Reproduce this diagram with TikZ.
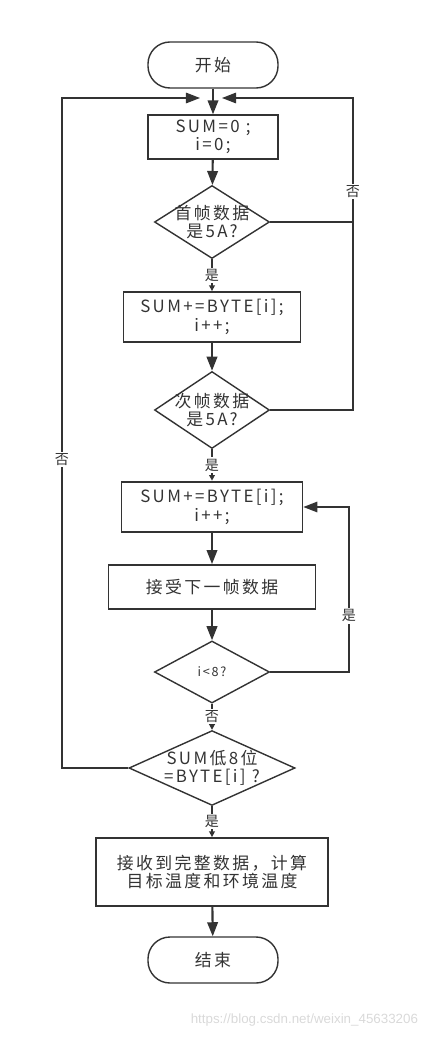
\documentclass[tikz,border=0pt]{standalone}
\usepackage{fontspec}
\setmainfont{Noto Sans CJK SC}[LetterSpace=14]
\newfontfamily\markfont{Liberation Sans}
\usetikzlibrary{shapes.geometric,arrows.meta}
\definecolor{ink}{HTML}{333333}
\newcommand{\txt}[1]{\fontsize{#1}{13}\selectfont}

\begin{document}
\begin{tikzpicture}[x=0.025cm,y=-0.025cm,color=ink,
  every node/.style={font=\txt{12}},
  terminal/.style={draw,line width=1pt,rounded corners=0.55cm,minimum width=3.25cm,minimum height=1.15cm},
  process/.style={draw,line width=1.3pt,align=center},
  decision/.style={draw,diamond,line width=1pt,inner sep=-10pt,align=center},
  flow/.style={line width=1.5pt,-{Triangle[length=10pt,width=7.5pt]}},
  branch/.style={line width=1pt,-{Triangle[length=4pt,width=4pt]}},
  loop/.style={line width=1pt,-{Triangle[length=10pt,width=7.5pt]}},
  tag/.style={fill=white,inner sep=1pt,font=\txt{10}}]
  \useasboundingbox (0,0) rectangle (432,1038);
  \node[terminal] (start) at (213,65) {开始};
  \node[process,minimum width=3.25cm,minimum height=1.05cm] (init) at (213,137) {SUM=0 ;\\ i=0;};
  \node[decision,minimum width=2.875cm,minimum height=1.825cm] (first) at (212,222) {首帧数据\\是5A?};
  \node[process,minimum width=4.42cm,minimum height=1.25cm] (add1) at (212,317) {SUM+=BYTE[i];\\i++;};
  \node[decision,minimum width=2.875cm,minimum height=1.925cm] (second) at (212,410) {次帧数据\\是5A?};
  \node[process,minimum width=4.52cm,minimum height=1.27cm] (add2) at (212,507) {SUM+=BYTE[i];\\i++;};
  \node[process,minimum width=5.17cm,minimum height=1.1cm] (next) at (212,587) {接受下一帧数据};
  \node[decision,minimum width=2.875cm,minimum height=1.55cm,font=\txt{9}] (count) at (212,672) {i<8?};
  \node[decision,minimum width=4.15cm,minimum height=1.85cm] (check) at (212,768) {SUM低8位\\=BYTE[i] ?};
  \node[process,minimum width=5.8cm,minimum height=1.7cm] (calc) at (212,872) {接收到完整数据，计算\\目标温度和环境温度};
  \node[terminal] (stop) at (213,960) {结束};
  \coordinate (merge) at (212,98);
  \coordinate (rtop) at (353,98);
  \coordinate (ltop) at (62,98);
  \coordinate (rloop) at (349,507);

  \draw[flow] (start) -- (init);
  \draw[flow] (init) -- (first);
  \draw[branch] (first) -- node[tag] (yes1) {是} (add1);
  \draw[flow] (add1) -- (second);
  \draw[branch] (second) -- node[tag] (yes2) {是} (add2);
  \draw[flow] (add2) -- (next);
  \draw[flow] (next) -- (count);
  \draw[branch] (count) -- node[tag] (no3) {否} (check);
  \draw[branch] (check) -- node[tag] (yes4) {是} (calc);
  \draw[flow] (calc) -- (stop);
  % loops back to the start
  \draw[line width=1pt] (first.east) -- (first.east -| rtop);
  \draw[loop] (second.east) -| node[tag,pos=0.85] (no1) {否} (rtop) -- ([xshift=0.25cm]merge);
  \draw[loop] (check.west) -| node[tag,pos=0.73] (no2) {否} (ltop) -- ([xshift=-0.3cm]merge);
  \draw[loop] (count.east) -| node[tag,pos=0.67] (yes3) {是} (rloop) -- (add2.east);

  \node[text=gray!30,font=\markfont\fontsize{9.5}{11}\selectfont,anchor=east] (mark) at (423,1020) {https://blog.csdn.net/weixin\_45633206};
\end{tikzpicture}
\end{document}
